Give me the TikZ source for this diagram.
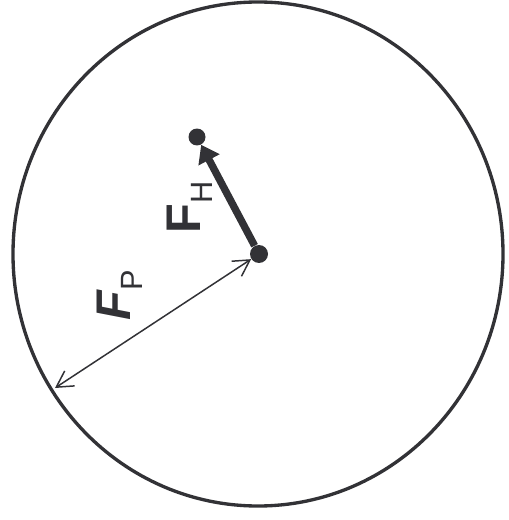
\documentclass[tikz,border=0pt]{standalone}
\usepackage{fontspec}
\setmainfont{Liberation Sans}
\usetikzlibrary{arrows.meta}
\definecolor{inkgray}{RGB}{50,50,54}

\begin{document}
\begin{tikzpicture}[
  x=0.02cm, y=-0.02cm,
  rim/.style={draw=inkgray, line width=1.9pt},
  dot/.style={circle, fill=inkgray, inner sep=0pt, minimum size=0.36cm},
  force/.style={-{Triangle[length=0.34cm, width=0.46cm]}, line width=4.2pt, inkgray},
  radline/.style={{Straight Barb[length=0.32cm, width=0.36cm]}-{Straight Barb[length=0.32cm, width=0.36cm]},
                  line width=0.85pt, inkgray},
  lbl/.style={rotate=90, anchor=base west, inner sep=0pt, text=inkgray,
              font=\fontsize{27.7}{28}\selectfont}
]
\useasboundingbox (0,0) rectangle (509,520);

%% ---------- BOUNDARY ----------
\draw[rim] (258,254) ellipse [x radius=245, y radius=252];

%% ---------- POINTS ----------
\node[dot] (o) at (259,254) {};
\node[dot, minimum size=0.34cm] (h) at (197,137) {};
\coordinate (p) at (55,388);

%% ---------- VECTORS ----------
\draw[force] (o) -- (h);
\draw[radline] (p) -- (o);

%% ---------- LABELS ----------
\node[lbl] (fh) at (200,234)
  {\bfseries F\raisebox{-0.24cm}{\fontsize{17.5}{18}\selectfont\mdseries H}};
\node[lbl] (fp) at (130,321)
  {\bfseries\itshape F\raisebox{-0.26cm}{\fontsize{17.5}{18}\selectfont\mdseries\upshape P}};

\end{tikzpicture}
\end{document}
